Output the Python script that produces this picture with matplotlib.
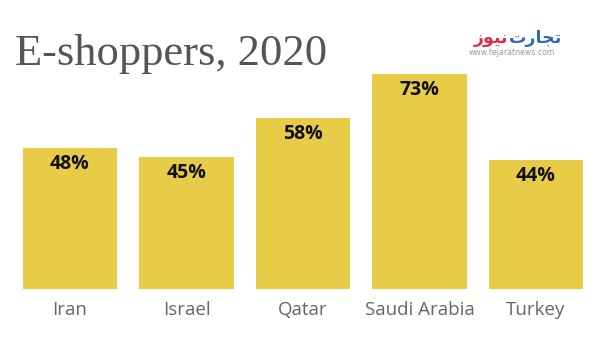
import matplotlib
matplotlib.use("Agg")
import matplotlib.pyplot as plt

countries = ["Iran", "Israel", "Qatar", "Saudi Arabia", "Turkey"]
values = [48, 45, 58, 73, 44]
value_labels = ["48%", "45%", "58%", "73%", "44%"]
title = "E-shoppers, 2020"
# logo text, pre-shaped presentation forms in visual order
logo_red = "\uFEAF\uFEEE\uFBFF\uFEE7"      # نیوز
logo_blue = "\uFE95\uFEAD\uFE8E\uFEA0\uFE97"  # تجارت
logo_url = "www.tejaratnews.com"

W, H = 600, 343
fig = plt.figure(figsize=(W / 100, H / 100), dpi=100)
fig.patch.set_facecolor("white")

ax = fig.add_axes([11.75 / W, 54 / H, (594.25 - 11.75) / W, 235.2 / H])
x = list(range(len(countries)))
ax.bar(x, values, width=0.807, color="#e8cc48", zorder=2)
ax.set_xlim(-0.5, len(countries) - 0.5)
ax.set_ylim(0, 80)
ax.axis("off")

for xi, v, lab in zip(x, values, value_labels):
    ax.annotate(lab, xy=(xi, v), xytext=(0, -16 * 72 / 100), textcoords="offset points",
                ha="center", va="center", fontsize=14, fontweight="bold",
                family="Open Sans", color="#111111")

for xi, c in zip(x, countries):
    ax.annotate(c, xy=(xi, 0), xytext=(0, -21 * 72 / 100), textcoords="offset points",
                ha="center", va="center", fontsize=13.5, family="Open Sans",
                color="#666666")

fig.text(15 / W, 1 - 65 / H, title, ha="left", va="baseline", fontsize=32,
         family="Liberation Serif", color="#555555")

fig.text(508 / W, 1 - 43 / H, logo_red, ha="right", va="baseline", fontsize=12.5,
         fontweight="bold", family=["DejaVu Sans"], color="#d9304a")
fig.text(509 / W, 1 - 43 / H, logo_blue, ha="left", va="baseline", fontsize=12.5,
         fontweight="bold", family=["DejaVu Sans"], color="#2d6cb5")
fig.text(511.5 / W, 1 - 55 / H, logo_url, ha="center", va="baseline", fontsize=5.6,
         family="DejaVu Sans", color="#999999")

fig.savefig("out.png", dpi=100, facecolor="white")
